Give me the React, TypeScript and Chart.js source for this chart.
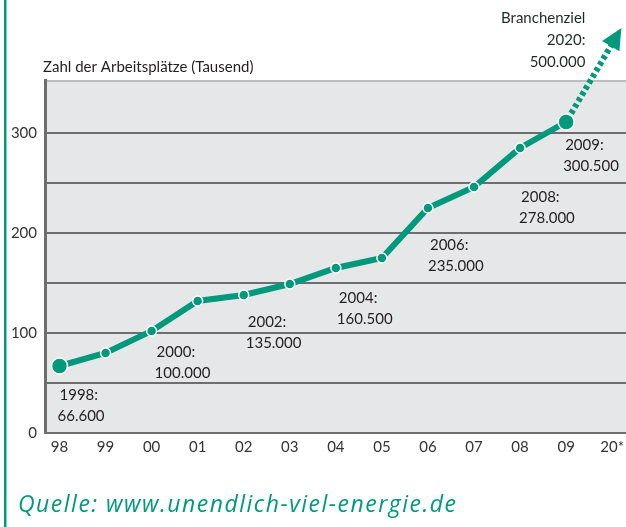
import React, { useEffect, useRef } from 'react';
import { Chart, registerables } from 'chart.js';

Chart.register(...registerables);

// ---- data ----
const categories = ['98', '99', '00', '01', '02', '03', '04', '05', '06', '07', '08', '09', '20*'];
const jobs = [67, 80, 102, 132, 138, 149, 165, 175, 225, 246, 285, 311]; // Tausend
const yGridValues = [0, 50, 100, 150, 200, 250, 300];
const yLabelled = [0, 100, 200, 300];
const labelIndex = [0, 2, 4, 6, 8, 10, 11];
const labelYears = ['1998:', '2000:', '2002:', '2004:', '2006:', '2008:', '2009:'];
const labelValues = ['66.600', '100.000', '135.000', '160.500', '235.000', '278.000', '300.500'];
const goalLines = ['Branchenziel', '2020:', '500.000'];
const goalTip = { x: 12.2, y: 405 };
const axisTitle = 'Zahl der Arbeitsplätze (Tausend)';
const sourceText = 'Quelle: www.unendlich-viel-energie.de';

// ---- styling ----
const GREEN = '#00997b';
const TEXT = '#231f20';
const labelOffsets: [number, number][] = [
  [0, 29], [5, 21], [4, 27], [3, 30], [2, 37], [1, 49], [-1, 23],
];
const FONT = 'Lato, "Open Sans", sans-serif';

const decorPlugin = {
  id: 'decor',
  beforeDraw(chart: any) {
    const { ctx, chartArea: a } = chart;
    ctx.save();
    ctx.fillStyle = '#e6e7e8';
    ctx.fillRect(a.left, a.top, chart.width - a.left, a.bottom - a.top);
    ctx.fillStyle = '#bcbdbf';
    ctx.fillRect(a.left, a.top, chart.width - a.left, 2);
    ctx.restore();
  },
  afterDatasetsDraw(chart: any) {
    const { ctx } = chart;
    const xs = chart.scales.x;
    const ys = chart.scales.y;
    ctx.save();

    // dotted arrow towards 2020 goal
    const last = jobs.length - 1;
    const p0x = xs.getPixelForValue(last);
    const p0y = ys.getPixelForValue(jobs[last]);
    const tx = xs.getPixelForValue(goalTip.x);
    const ty = ys.getPixelForValue(goalTip.y);
    const dx = tx - p0x;
    const dy = ty - p0y;
    const len = Math.hypot(dx, dy);
    const ux = dx / len;
    const uy = dy / len;
    const nx = -uy;
    const ny = ux;
    const headLen = 21;
    const bx = tx - ux * headLen;
    const by = ty - uy * headLen;
    ctx.strokeStyle = GREEN;
    ctx.lineWidth = 6;
    ctx.setLineDash([4, 3]);
    ctx.beginPath();
    ctx.moveTo(p0x + ux * 10, p0y + uy * 10);
    ctx.lineTo(bx + ux * 1, by + uy * 1);
    ctx.stroke();
    ctx.setLineDash([]);
    ctx.fillStyle = GREEN;
    ctx.beginPath();
    ctx.moveTo(tx, ty);
    ctx.lineTo(bx + nx * 10, by + ny * 10);
    ctx.lineTo(bx - nx * 10, by - ny * 10);
    ctx.closePath();
    ctx.fill();

    // value labels
    ctx.fillStyle = TEXT;
    ctx.font = `15px ${FONT}`;
    ctx.textBaseline = 'middle';
    ctx.textAlign = 'left';
    labelIndex.forEach((idx, k) => {
      const px = xs.getPixelForValue(idx) + labelOffsets[k][0];
      const py = ys.getPixelForValue(jobs[idx]) + labelOffsets[k][1];
      ctx.fillText(labelYears[k], px, py);
      ctx.fillText(labelValues[k], px - 2, py + 21);
    });

    // goal label
    ctx.textAlign = 'right';
    ctx.fillStyle = '#1d2b26';
    goalLines.forEach((t, i) => {
      ctx.fillText(t, tx - 36, ty - 10 + i * 22);
    });

    // axis title
    ctx.textAlign = 'left';
    ctx.fillStyle = TEXT;
    ctx.font = `15px ${FONT}`;
    ctx.fillText(axisTitle, chart.chartArea.left - 2, 67);

    // source
    ctx.fillStyle = GREEN;
    ctx.textBaseline = 'alphabetic';
    ctx.font = `italic 23px "Open Sans", sans-serif`;
    try {
      (ctx as any).letterSpacing = '1.5px';
    } catch (e) {}
    ctx.fillText(sourceText, 18, 512);
    try {
      (ctx as any).letterSpacing = '0px';
    } catch (e) {}

    // left border line
    ctx.fillRect(4, 0, 2.5, chart.height);
    ctx.restore();
  },
};

export default function App() {
  const ref = useRef<HTMLCanvasElement>(null);
  useEffect(() => {
    if (!ref.current) return;
    const chart = new Chart(ref.current, {
      type: 'line',
      data: {
        datasets: [
          {
            data: jobs.map((v, i) => ({ x: i, y: v })),
            borderColor: GREEN,
            borderWidth: 6,
            pointRadius: jobs.map((_, i) => (i === 0 || i === jobs.length - 1 ? 8 : 5)),
            pointBackgroundColor: GREEN,
            pointBorderColor: '#ffffff',
            pointBorderWidth: 1.5,
            tension: 0,
          },
        ],
      },
      options: {
        responsive: false,
        animation: false,
        layout: { autoPadding: false, padding: { top: 80, left: 0, right: 0, bottom: 0 } },
        plugins: { legend: { display: false }, tooltip: { enabled: false }, title: { display: false } },
        scales: {
          x: {
            type: 'linear',
            min: -0.315,
            max: 12.3,
            afterBuildTicks: (s: any) => {
              s.ticks = categories.map((_, i) => ({ value: i }));
            },
            afterFit: (s: any) => {
              s.height = 94;
              s.paddingLeft = 0;
              s.paddingRight = 0;
            },
            grid: { display: false, drawTicks: false },
            border: { display: false },
            ticks: {
              autoSkip: false,
              maxRotation: 0,
              padding: 5,
              color: '#333333',
              font: { family: FONT, size: 15 },
              callback: (v: any) => categories[v] ?? '',
            },
          },
          y: {
            min: 0,
            max: 353,
            afterBuildTicks: (s: any) => {
              s.ticks = yGridValues.map((v) => ({ value: v }));
            },
            afterFit: (s: any) => {
              s.width = 45;
              s.paddingTop = 0;
              s.paddingBottom = 0;
            },
            grid: { color: '#6d6e71', lineWidth: 2, drawTicks: false },
            border: { display: true, color: '#6d6e71', width: 3 },
            ticks: {
              padding: 8,
              color: '#333333',
              font: { family: FONT, size: 15 },
              callback: (v: any) => (yLabelled.includes(v) ? String(v) : ''),
            },
          },
        },
      },
      plugins: [decorPlugin],
    } as any);
    return () => chart.destroy();
  }, []);

  return (
    <div style={{ position: 'absolute', left: 0, top: 0, width: 626, height: 527, background: '#ffffff' }}>
      <canvas ref={ref} width={626} height={527} style={{ display: 'block' }} />
    </div>
  );
}
